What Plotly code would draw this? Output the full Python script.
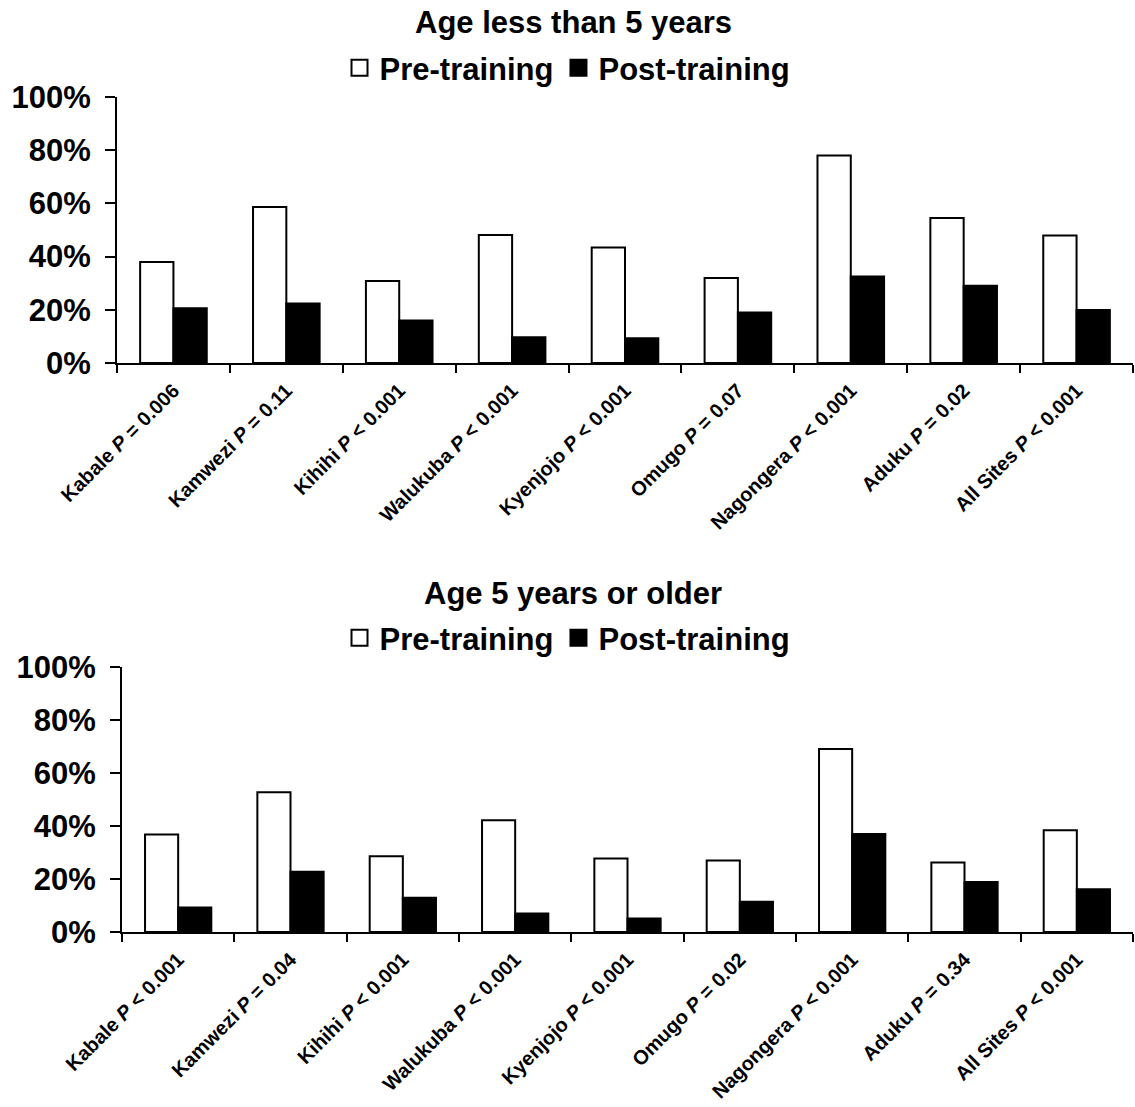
import plotly.graph_objects as go

sites = ["Kabale", "Kamwezi", "Kihihi", "Walukuba", "Kyenjojo", "Omugo",
         "Nagongera", "Aduku", "All Sites"]
p_under5 = ["= 0.006", "= 0.11", "< 0.001", "< 0.001", "< 0.001", "= 0.07",
            "< 0.001", "= 0.02", "< 0.001"]
p_over5 = ["< 0.001", "= 0.04", "< 0.001", "< 0.001", "< 0.001", "= 0.02",
           "< 0.001", "= 0.34", "< 0.001"]

pre_under5 = [38.0, 58.6, 30.8, 48.1, 43.4, 32.0, 78.0, 54.5, 47.9]
post_under5 = [20.6, 22.4, 16.0, 9.7, 9.3, 19.0, 32.5, 29.0, 19.9]
pre_over5 = [36.8, 52.7, 28.6, 42.2, 27.7, 27.0, 69.1, 26.2, 38.4]
post_over5 = [9.2, 22.7, 12.9, 7.0, 5.1, 11.4, 37.0, 18.9, 16.1]

titles = ["Age less than 5 years", "Age 5 years or older"]
series_names = ["Pre-training", "Post-training"]

FONT = "Liberation Sans, Arial, sans-serif"
W, H = 1135, 1107


def ticklabels(pvals):
    return [f"{s} <i>P</i> {p}" for s, p in zip(sites, pvals)]


pre_style = dict(color="white", line=dict(color="black", width=2))
post_style = dict(color="black", line=dict(color="black", width=2))

fig = go.Figure()
panels = [
    (pre_under5, post_under5, "x", "y", "legend"),
    (pre_over5, post_over5, "x2", "y2", "legend2"),
]
for pre, post, xa, ya, lg in panels:
    fig.add_trace(go.Bar(x=sites, y=pre, name=series_names[0], xaxis=xa, yaxis=ya,
                         legend=lg, legendgroup=lg + "pre", showlegend=False,
                         marker=pre_style))
    fig.add_trace(go.Bar(x=sites, y=post, name=series_names[1], xaxis=xa, yaxis=ya,
                         legend=lg, legendgroup=lg + "post", showlegend=False,
                         marker=post_style))
    # legend entries with larger square symbols
    fig.add_trace(go.Scatter(x=[None], y=[None], mode="markers", name=series_names[0],
                             xaxis=xa, yaxis=ya, legend=lg, legendgroup=lg + "pre",
                             marker=dict(symbol="square", size=16, **pre_style)))
    fig.add_trace(go.Scatter(x=[None], y=[None], mode="markers", name=series_names[1],
                             xaxis=xa, yaxis=ya, legend=lg, legendgroup=lg + "post",
                             marker=dict(symbol="square", size=16, **post_style)))


def py(px):
    return 1 - px / H


xcommon = dict(type="category", showline=True, linecolor="black", linewidth=2,
               ticks="outside", tickson="boundaries", ticklen=8, tickwidth=2,
               tickcolor="black", tickangle=-45, showgrid=False, zeroline=False,
               automargin=False, ticklabelstandoff=6,
               tickfont=dict(family=FONT, size=20, color="black", weight="bold"))
ycommon = dict(range=[0, 100], tickvals=[0, 20, 40, 60, 80, 100],
               ticktext=["0%", "20%", "40%", "60%", "80%", "100%"],
               showline=True, linecolor="black", linewidth=2, ticks="outside",
               ticklen=10, tickwidth=2, tickcolor="black", showgrid=False,
               zeroline=False, ticklabelstandoff=8, automargin=False,
               tickfont=dict(family=FONT, size=31, color="black", weight="bold"))

legend_common = dict(orientation="h", x=0.5, xanchor="center", yanchor="middle",
                     font=dict(family=FONT, size=31, weight="bold", color="black"),
                     bgcolor="rgba(0,0,0,0)", traceorder="normal")

fig.update_layout(
    template="none",
    width=W, height=H,
    margin=dict(l=0, r=0, t=0, b=0, autoexpand=False),
    paper_bgcolor="white", plot_bgcolor="white",
    font=dict(family=FONT, color="black"),
    barmode="group", bargap=0.41, bargroupgap=0,
    xaxis=dict(domain=[117 / W, 1133 / W], anchor="y",
               ticktext=ticklabels(p_under5), tickvals=sites, **xcommon),
    yaxis=dict(domain=[py(363), py(97)], anchor="x", **ycommon),
    xaxis2=dict(domain=[122 / W, 1133 / W], anchor="y2",
                ticktext=ticklabels(p_over5), tickvals=sites, **xcommon),
    yaxis2=dict(domain=[py(932), py(667)], anchor="x2", **ycommon),
    legend=dict(y=py(68), **legend_common),
    legend2=dict(y=py(638), **legend_common),
    annotations=[
        dict(text=titles[0], x=573 / W, y=py(23), xref="paper", yref="paper",
             xanchor="center", yanchor="middle", showarrow=False,
             font=dict(family=FONT, size=31, color="black", weight="bold")),
        dict(text=titles[1], x=573 / W, y=py(593), xref="paper", yref="paper",
             xanchor="center", yanchor="middle", showarrow=False,
             font=dict(family=FONT, size=31, color="black", weight="bold")),
    ],
)

fig.write_html("out.html", config={"displayModeBar": False},
               post_script="document.body.style.margin='0';document.body.style.overflow='hidden';")
